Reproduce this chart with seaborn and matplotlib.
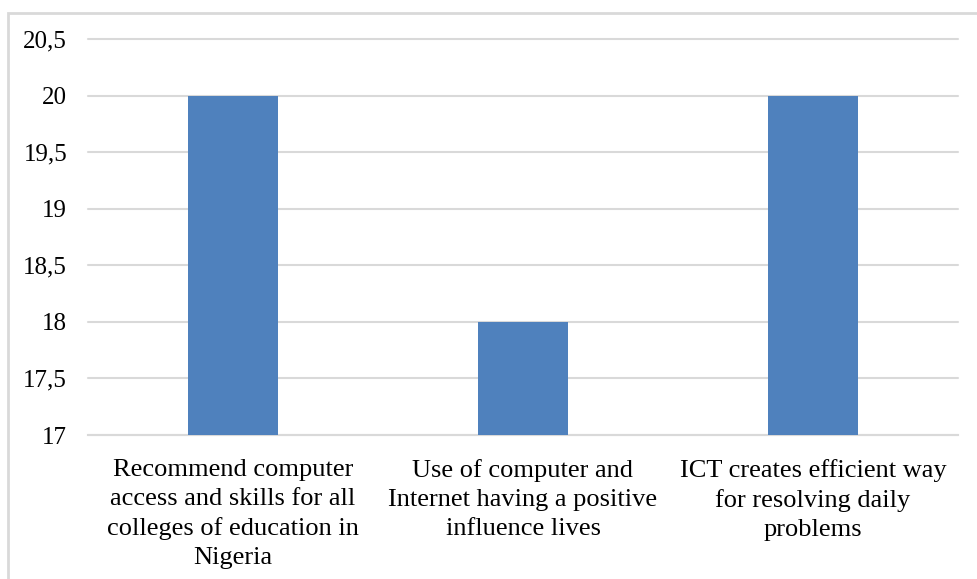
import matplotlib
matplotlib.use("Agg")
import matplotlib.pyplot as plt
import seaborn as sns
import pandas as pd
from matplotlib.patches import Rectangle
from matplotlib.ticker import FixedLocator

categories = [
    "Recommend computer\naccess and skills for all\ncolleges of education in\nNigeria",
    "Use of computer and\nInternet having a positive\ninfluence lives",
    "ICT creates efficient way\nfor resolving daily\nproblems",
]
values = [20, 18, 20]
y_ticks = [17, 17.5, 18, 18.5, 19, 19.5, 20, 20.5]
y_tick_labels = ["17", "17,5", "18", "18,5", "19", "19,5", "20", "20,5"]

sns.set_theme(style="white")
plt.rcParams["font.family"] = ["Liberation Serif", "DejaVu Serif"]

W, H = 977, 579
fig = plt.figure(figsize=(W / 100, H / 100), dpi=100)
ax = fig.add_axes([88 / W, 1 - 435 / H, 870 / W, (435 - 39) / H])

df = pd.DataFrame({"cat": categories, "val": values})
sns.barplot(data=df, x="cat", y="val", color="#4F81BD", saturation=1,
            width=0.31, linewidth=0, ax=ax, zorder=3)

ax.set_ylim(17, 20.5)
ax.yaxis.set_major_locator(FixedLocator(y_ticks))
ax.set_yticklabels(y_tick_labels, fontsize=18, color="#000000")
ax.tick_params(axis="y", length=0, pad=15)
ax.tick_params(axis="x", length=0, pad=17)
for lbl in ax.get_xticklabels():
    lbl.set_fontsize(19)
    lbl.set_color("#000000")
    lbl.set_linespacing(1.42)
    lbl.set_verticalalignment("top")
ax.grid(axis="y", color="#D9D9D9", linewidth=1.5, zorder=0)
for gl in ax.get_ygridlines():
    gl.set_clip_on(False)
ax.set_axisbelow(True)
for s in ["top", "right", "left"]:
    ax.spines[s].set_visible(False)
ax.spines["bottom"].set_color("#D9D9D9")
ax.spines["bottom"].set_linewidth(1.5)
ax.set_xlabel("")
ax.set_ylabel("")

# chart frame
fig.patches.append(Rectangle((8 / W, -0.05), 1.1, 1 - 13 / H + 0.05,
                             transform=fig.transFigure, fill=False,
                             edgecolor="#D9D9D9", linewidth=2, zorder=0))

fig.savefig("out.png", dpi=100, facecolor="white")
